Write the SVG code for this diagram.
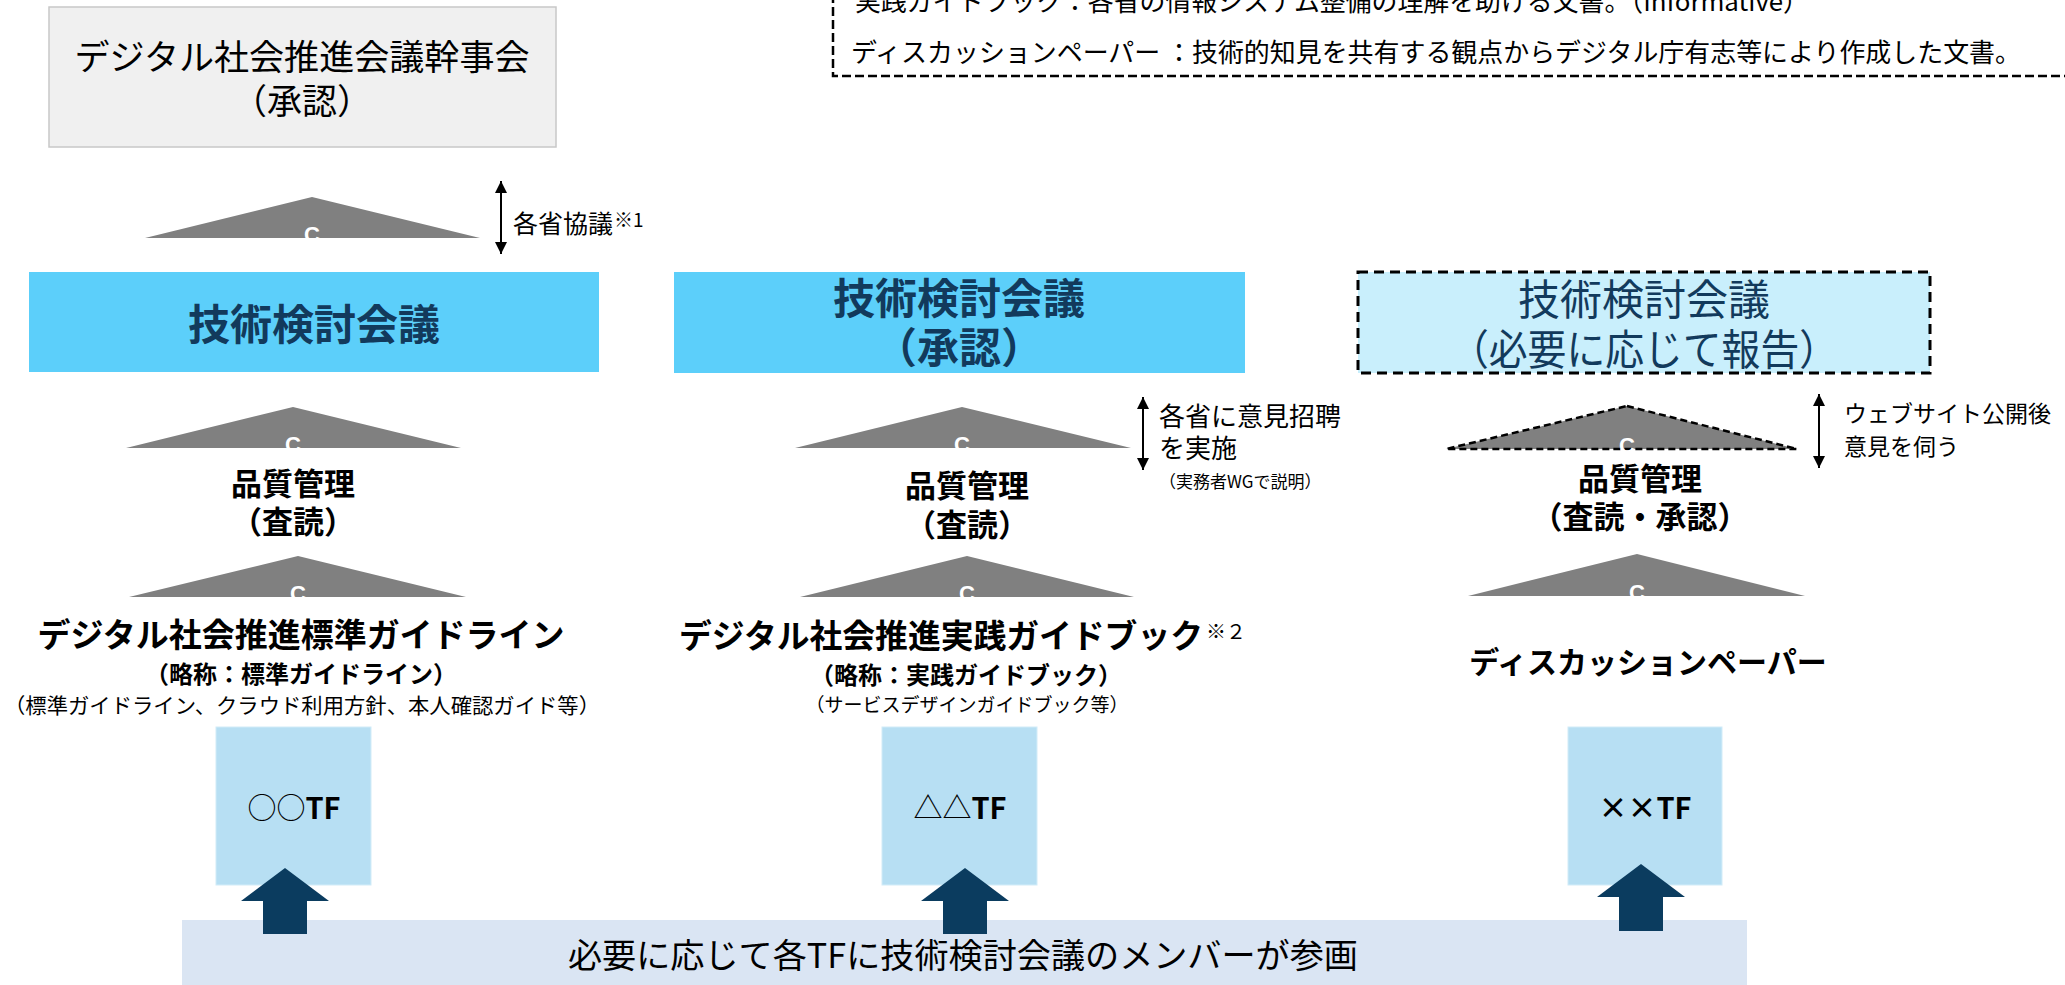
<svg xmlns="http://www.w3.org/2000/svg" width="2065" height="985" viewBox="0 0 2065 985">
<style>
text { font-family: "Noto Sans CJK JP", "Noto Sans", sans-serif; fill: #000; }
.b { font-weight: 700; }
.navy { fill: #123a5c; }
.tri { fill: #808080; }
.c { font-family: "Liberation Sans", Arial, sans-serif; font-size: 22px; font-weight: 700; fill: #fff; text-anchor: middle; }
.mid { text-anchor: middle; }
.dbl { stroke: #000; stroke-width: 2; fill: none; marker-start: url(#ah); marker-end: url(#ah); }
.tf { fill: #b7dff3; stroke: #d2ecf8; stroke-width: 1; }
.blk { fill: #0b3c5f; }
</style>
<defs>
<marker id="ah" markerUnits="userSpaceOnUse" markerWidth="12" markerHeight="12" refX="12" refY="6" orient="auto-start-reverse" viewBox="0 0 12 12">
<path d="M0,0 L12,6 L0,12 z" fill="#000"/>
</marker>
</defs>
<rect width="2065" height="985" fill="#fff"/>

<g id="legend">
<rect x="833" y="-20" width="1300" height="96" fill="#fff" stroke="#000" stroke-width="2.5" stroke-dasharray="9,4"/>
<text x="855" y="11" font-size="26" textLength="954" lengthAdjust="spacingAndGlyphs">実践ガイドブック：各省の情報システム整備の理解を助ける文書。（Informative）</text>
<text x="851" y="62" font-size="26" textLength="1170" lengthAdjust="spacingAndGlyphs">ディスカッションペーパー ：技術的知見を共有する観点からデジタル庁有志等により作成した文書。</text>
</g>

<g id="kanjikai">
<rect x="49" y="7" width="507" height="140" fill="#f0f0f0" stroke="#c8c8c8" stroke-width="1.5"/>
<text x="302" y="70" font-size="35" class="mid" textLength="455" lengthAdjust="spacingAndGlyphs">デジタル社会推進会議幹事会</text>
<text x="302" y="114" font-size="35" class="mid">（承認）</text>
</g>

<g id="tri-c1-top">
<polygon class="tri" points="312,197 480,238 145,238"/>
<text class="c" x="312" y="242">C</text>
</g>

<g id="kyogi-label">
<text x="513" y="233" font-size="25">各省協議</text>
<text x="614" y="227" font-size="19">※1</text>
</g>

<g id="gijutsu1">
<rect x="29" y="272" width="570" height="100" fill="#5ccffa"/>
<text x="314" y="340" font-size="42" class="b navy mid">技術検討会議</text>
</g>

<g id="gijutsu2">
<rect x="674" y="272" width="571" height="101" fill="#5ccffa"/>
<text x="959" y="314" font-size="42" class="b navy mid">技術検討会議</text>
<text x="959" y="363" font-size="42" class="b navy mid">（承認）</text>
</g>

<g id="gijutsu3">
<rect x="1358" y="272" width="572" height="101" fill="#c9effc" stroke="#000" stroke-width="3" stroke-dasharray="10,6"/>
<text x="1644" y="315" font-size="42" class="navy mid">技術検討会議</text>
<text x="1644" y="365" font-size="42" class="navy mid" textLength="388" lengthAdjust="spacingAndGlyphs">（必要に応じて報告）</text>
</g>

<g id="tri-c1-mid">
<polygon class="tri" points="293,407 461,448 126,448"/>
<text class="c" x="293" y="452">C</text>
</g>
<g id="tri-c2-mid">
<polygon class="tri" points="962,407 1131,448 795,448"/>
<text class="c" x="962" y="452">C</text>
</g>
<g id="tri-c3-mid">
<polygon class="tri" points="1627,406 1797,449 1446,449" stroke="#000" stroke-width="2.5" stroke-dasharray="7,4"/>
<text class="c" x="1627" y="453">C</text>
</g>

<g id="iken-label">
<text x="1159" y="426" font-size="26">各省に意見招聘</text>
<text x="1159" y="458" font-size="26">を実施</text>
<text x="1159" y="488" font-size="17">（実務者WGで説明）</text>
</g>
<g id="web-label">
<text x="1844" y="422" font-size="23">ウェブサイト公開後</text>
<text x="1844" y="455" font-size="23">意見を伺う</text>
</g>

<g id="qc1">
<text x="293" y="495" font-size="31" class="b mid">品質管理</text>
<text x="293" y="533" font-size="31" class="b mid">（査読）</text>
</g>
<g id="qc2">
<text x="967" y="497" font-size="31" class="b mid">品質管理</text>
<text x="967" y="536" font-size="31" class="b mid">（査読）</text>
</g>
<g id="qc3">
<text x="1640" y="490" font-size="31" class="b mid">品質管理</text>
<text x="1640" y="528" font-size="31" class="b mid">（査読・承認）</text>
</g>

<g id="tri-c1-low">
<polygon class="tri" points="298,556 466,597 129,597"/>
<text class="c" x="298" y="601">C</text>
</g>
<g id="tri-c2-low">
<polygon class="tri" points="967,556 1134,597 800,597"/>
<text class="c" x="967" y="601">C</text>
</g>
<g id="tri-c3-low">
<polygon class="tri" points="1637,554 1805,596 1468,596"/>
<text class="c" x="1637" y="600">C</text>
</g>

<g id="doc1">
<text x="301" y="647" font-size="33" class="b mid" textLength="527" lengthAdjust="spacingAndGlyphs">デジタル社会推進標準ガイドライン</text>
<text x="301" y="683" font-size="24" class="b mid">（略称：標準ガイドライン）</text>
<text x="302" y="713" font-size="21" class="mid" textLength="596" lengthAdjust="spacingAndGlyphs">（標準ガイドライン、クラウド利用方針、本人確認ガイド等）</text>
</g>
<g id="doc2">
<text x="679" y="648" font-size="33" class="b" textLength="524" lengthAdjust="spacingAndGlyphs">デジタル社会推進実践ガイドブック</text>
<text x="1206" y="639" font-size="20">※２</text>
<text x="966" y="684" font-size="24" class="b mid">（略称：実践ガイドブック）</text>
<text x="967" y="712" font-size="19" class="mid">（サービスデザインガイドブック等）</text>
</g>
<g id="doc3">
<text x="1648" y="673" font-size="30" class="b mid">ディスカッションペーパー</text>
</g>

<g id="band">
<rect x="182" y="920" width="1565" height="70" fill="#dae5f3"/>
<text x="963" y="968" font-size="34" class="mid" textLength="790" lengthAdjust="spacingAndGlyphs">必要に応じて各TFに技術検討会議のメンバーが参画</text>
</g>

<g id="tf1">
<rect class="tf" x="216" y="727" width="155" height="158"/>
<text x="294" y="819" font-size="29" class="mid">○○<tspan class="b">TF</tspan></text>
</g>
<g id="tf2">
<rect class="tf" x="882" y="727" width="155" height="158"/>
<text x="960" y="819" font-size="29" class="mid">△△<tspan class="b">TF</tspan></text>
</g>
<g id="tf3">
<rect class="tf" x="1568" y="727" width="154" height="158"/>
<text x="1645" y="819" font-size="29" class="b mid">××TF</text>
</g>

<g id="connectors">
<line class="dbl" x1="501" y1="181" x2="501" y2="254"/>
<line class="dbl" x1="1143" y1="397" x2="1143" y2="470"/>
<line class="dbl" x1="1819" y1="394" x2="1819" y2="468"/>
<polygon class="blk" points="285,868 329,901 307,901 307,934 263,934 263,901 241,901"/>
<polygon class="blk" points="965,868 1009,901 987,901 987,934 943,934 943,901 921,901"/>
<polygon class="blk" points="1641,864 1685,897 1663,897 1663,931 1619,931 1619,897 1597,897"/>
</g>
</svg>
